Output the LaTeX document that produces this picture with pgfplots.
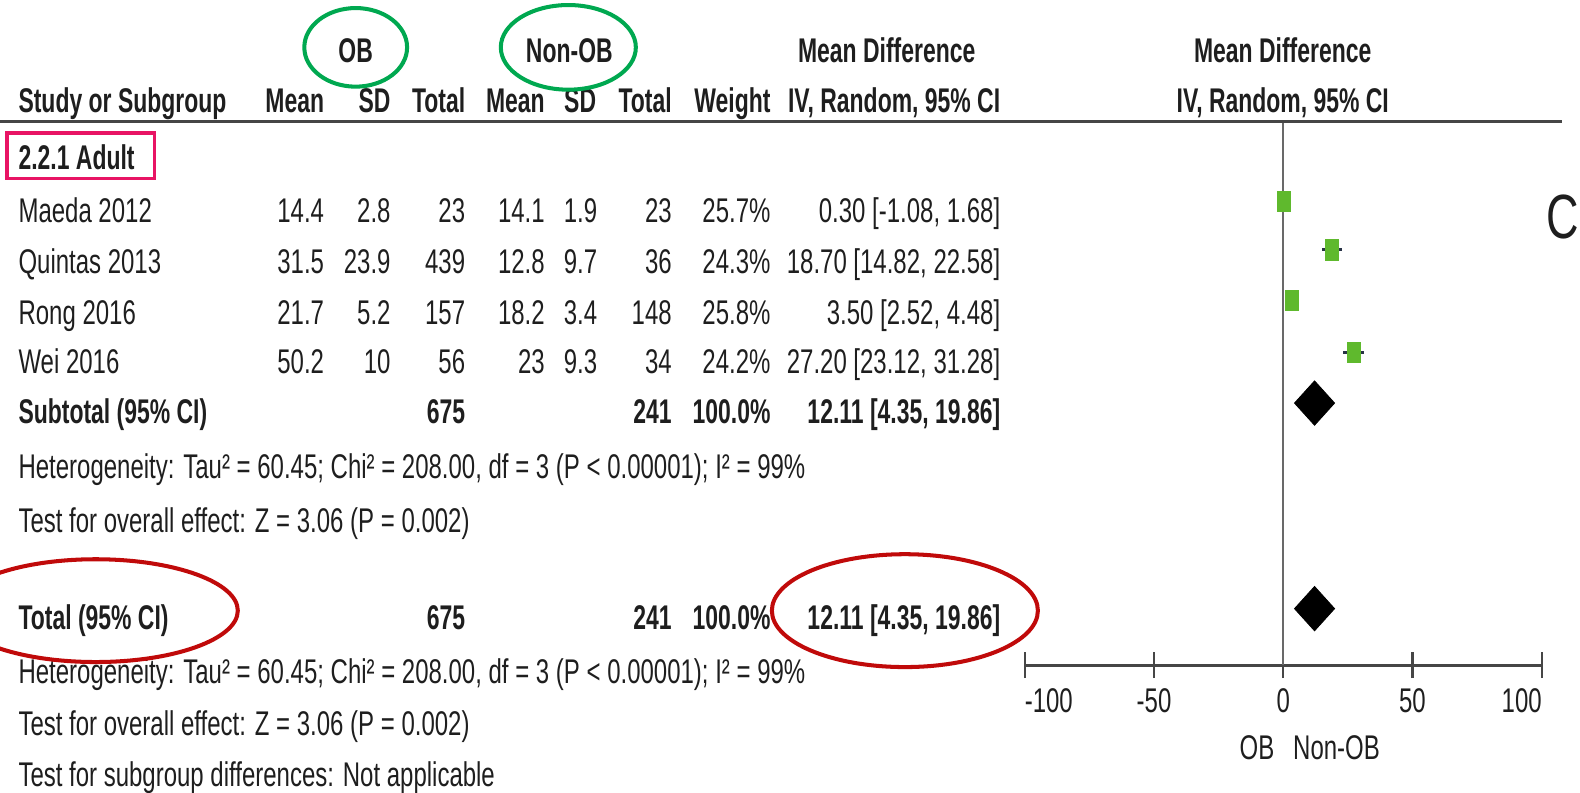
\documentclass[border=0pt]{standalone}
\usepackage{pgfplots}
\pgfplotsset{compat=1.18}
\usepackage{pgfplotstable}
\usepackage{fontspec}
\setmainfont{Liberation Sans}[FakeStretch=0.70, BoldFeatures={FakeStretch=0.67}]
\newfontfamily\letterfont{Liberation Sans}[FakeStretch=0.72]

\definecolor{txt}{RGB}{30,30,30}
\definecolor{rulecol}{RGB}{70,70,70}
\definecolor{zeroline}{RGB}{105,105,105}
\definecolor{sqgreen}{RGB}{95,185,45}
\definecolor{cibar}{RGB}{40,50,70}
\definecolor{circgreen}{RGB}{0,168,80}
\definecolor{boxpink}{RGB}{232,20,100}
\definecolor{ringred}{RGB}{192,10,10}

% study estimates: mean difference, 95% CI, row position
\pgfplotstableread{
study md lo hi y
Maeda 0.30 -1.08 1.68 200
Quintas 18.70 14.82 22.58 248
Rong 3.50 2.52 4.48 298
Wei 27.20 23.12 31.28 350
}\studies

\begin{document}
\fontsize{17}{20}\selectfont
\begin{tikzpicture}
% forest plot (1 unit of the layout grid = 0.5pt, y measured downwards)
\begin{axis}[
  at={(508.5pt,-330pt)}, anchor=south west,
  width=256.5pt, height=269.5pt, scale only axis,
  xmin=-100, xmax=100, ymin=121, ymax=660, y dir=reverse,
  axis x line*=bottom, axis y line=none,
  x axis line style={-, draw=rulecol, line width=1.5pt},
  xtick={-100,-50,0,50,100},
  xticklabels={\rlap{-100},-50,0,50,\llap{100}},
  tick align=center, major tick length=13pt,
  xtick style={draw=rulecol, line width=1.1pt},
  xticklabel style={text=txt, inner sep=0pt, anchor=base},
  xticklabel shift=17pt,
  clip=false,
]
\addplot[zeroline, line width=1pt] coordinates {(0,121) (0,660)};
\addplot[draw=none, mark=none,
  error bars/.cd, x dir=both, x explicit, error mark=none,
  error bar style={cibar, line width=1.4pt}]
  table[x=md, y=y,
        x error plus expr=\thisrow{hi}-\thisrow{md},
        x error minus expr=\thisrow{md}-\thisrow{lo}] {\studies};
\addplot[only marks, mark=square*, mark size=5pt,
  mark options={xscale=0.65, fill=sqgreen, draw=sqgreen}]
  table[x=md, y=y] {\studies};
% pooled estimates
\addplot[fill=black, draw=black] coordinates {(4.35,400) (12.11,378) (19.86,400) (12.11,422)} -- cycle;
\addplot[fill=black, draw=black] coordinates {(4.35,604) (12.11,582) (19.86,604) (12.11,626)} -- cycle;
\node[anchor=base east, inner sep=0pt, text=txt] at (axis cs:-3.3,754) {OB};
\node[anchor=base west, inner sep=0pt, text=txt] at (axis cs:3.7,754) {Non-OB};
\end{axis}

\begin{scope}[x=0.5pt, y=-0.5pt,
  l/.style={anchor=base west, inner sep=0pt, text=txt},
  r/.style={anchor=base east, inner sep=0pt, text=txt},
  c/.style={anchor=base, inner sep=0pt, text=txt}]
\path[use as bounding box] (0,0) rectangle (1568,786);

% header
\node[c] at (353,62) {\bfseries OB};
\node[c] at (565,62) {\bfseries Non-OB};
\node[c] at (880,62) {\bfseries Mean Difference};
\node[c] at (1273,62) {\bfseries Mean Difference};

\node[l] at (18,112) {\bfseries Study or Subgroup};
\node[r] at (322,112) {\bfseries Mean};
\node[r] at (388,112) {\bfseries SD};
\node[r] at (462,112) {\bfseries Total};
\node[r] at (541,112) {\bfseries Mean};
\node[r] at (592,112) {\bfseries SD};
\node[r] at (667,112) {\bfseries Total};
\node[r] at (765,112) {\bfseries Weight};
\node[r] at (993,112) {\bfseries IV, Random, 95\% CI};
\node[c] at (1273,112) {\bfseries IV, Random, 95\% CI};

\draw[rulecol, line width=1.5pt] (0,121) -- (1550,121);

% subgroup
\node[l] at (18,168) {\bfseries 2.2.1 Adult};

\foreach \yy/\name/\ma/\sa/\na/\mb/\sb/\nb/\w/\ci in {
  221/Maeda 2012/14.4/2.8/23/14.1/1.9/23/25.7/{0.30 [-1.08, 1.68]},
  271/Quintas 2013/31.5/23.9/439/12.8/9.7/36/24.3/{18.70 [14.82, 22.58]},
  322/Rong 2016/21.7/5.2/157/18.2/3.4/148/25.8/{3.50 [2.52, 4.48]},
  371/Wei 2016/50.2/10/56/23/9.3/34/24.2/{27.20 [23.12, 31.28]}}{
  \node[l] at (18,\yy) {\name};
  \node[r] at (322,\yy) {\ma};
  \node[r] at (388,\yy) {\sa};
  \node[r] at (462,\yy) {\na};
  \node[r] at (541,\yy) {\mb};
  \node[r] at (593,\yy) {\sb};
  \node[r] at (667,\yy) {\nb};
  \node[r] at (765,\yy) {\w\%};
  \node[r] at (993,\yy) {\ci};
}

\node[l] at (18,420) {\bfseries Subtotal (95\% CI)};
\node[r] at (462,420) {\bfseries 675};
\node[r] at (667,420) {\bfseries 241};
\node[r] at (765,420) {\bfseries 100.0\%};
\node[r] at (993,420) {\bfseries 12.11 [4.35, 19.86]};
\node[l] at (18,475) {Heterogeneity: Tau² = 60.45; Chi² = 208.00, df = 3 (P < 0.00001); I² = 99\%};
\node[l] at (18,528) {Test for overall effect: Z = 3.06 (P = 0.002)};

\node[l] at (18,625) {\bfseries Total (95\% CI)};
\node[r] at (462,625) {\bfseries 675};
\node[r] at (667,625) {\bfseries 241};
\node[r] at (765,625) {\bfseries 100.0\%};
\node[r] at (993,625) {\bfseries 12.11 [4.35, 19.86]};
\node[l] at (18,678) {Heterogeneity: Tau² = 60.45; Chi² = 208.00, df = 3 (P < 0.00001); I² = 99\%};
\node[l] at (18,730) {Test for overall effect: Z = 3.06 (P = 0.002)};
\node[l] at (18,781) {Test for subgroup differences: Not applicable};

% panel letter
\node[c] at (1551,237) {\letterfont\fontsize{31}{31}\selectfont C};

% highlights
\draw[circgreen, line width=2pt] (353,47) ellipse [x radius=51, y radius=39];
\draw[circgreen, line width=2pt] (564,47) ellipse [x radius=67, y radius=42];
\draw[boxpink, line width=1.6pt] (7,132) rectangle (153,177);
\draw[ringred, line width=2pt] (95,606) ellipse [x radius=141, y radius=51];
\draw[ringred, line width=2pt] (898,606) ellipse [x radius=132, y radius=56];
\end{scope}
\end{tikzpicture}
\end{document}
